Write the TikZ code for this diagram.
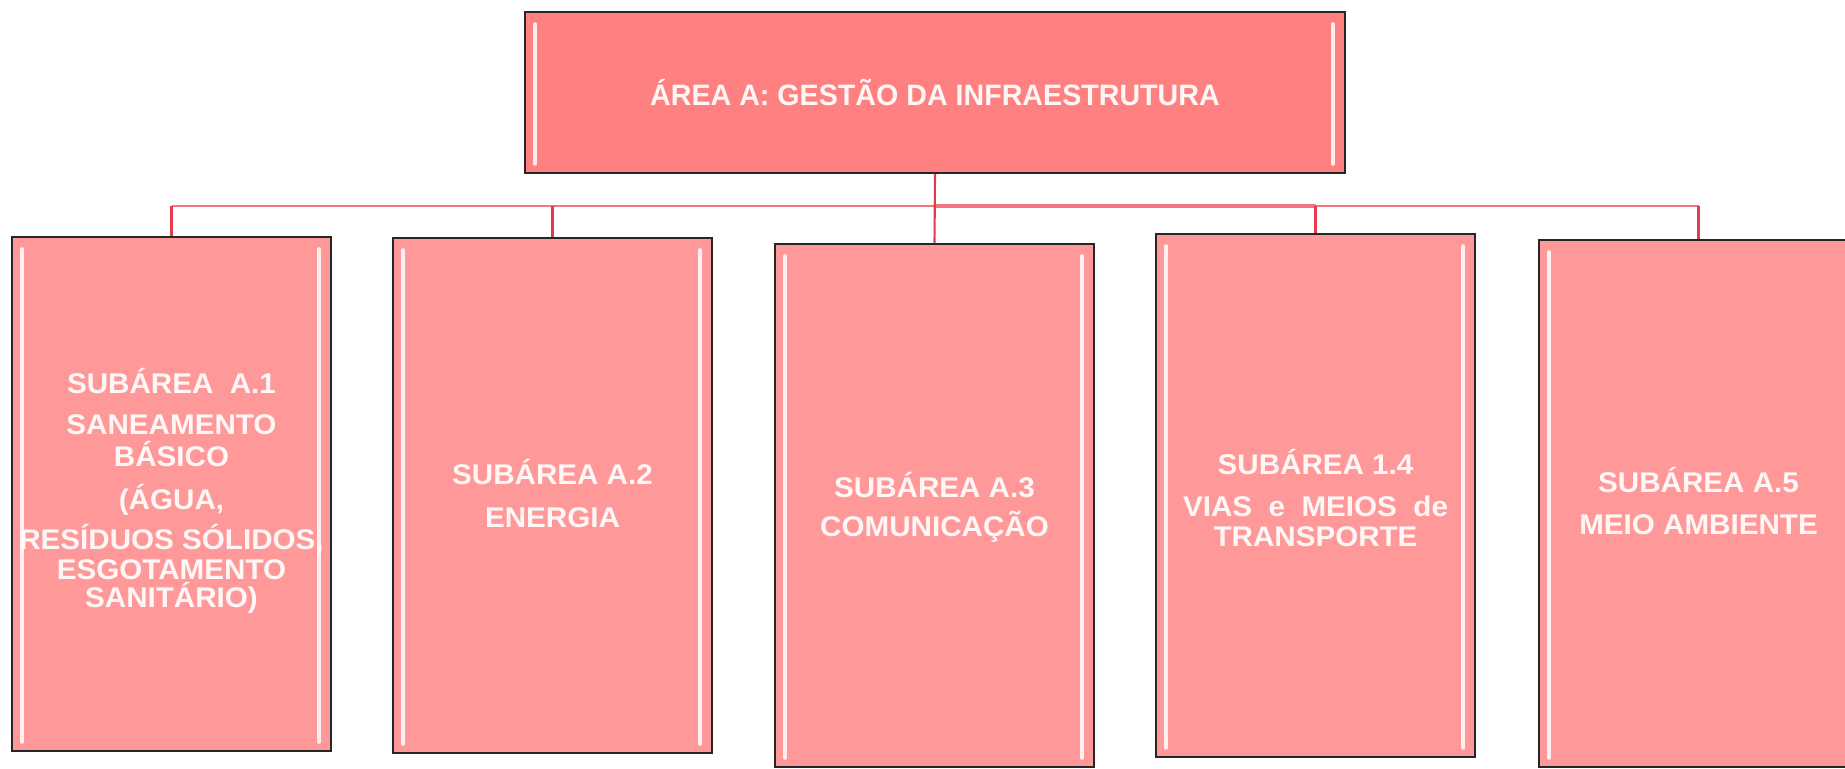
\documentclass[tikz,border=0pt]{standalone}
\usepackage{fontspec}
\setmainfont{Liberation Sans}[FakeStretch=1.04]
\newfontfamily\areafont{Liberation Sans}[FakeStretch=0.97]
\usetikzlibrary{math}
\usetikzlibrary{positioning}
\usepackage{xcolor}

\definecolor{areafill}{RGB}{255,128,128}
\definecolor{subfill}{RGB}{255,153,153}
\definecolor{droplink}{RGB}{228,58,74}
\definecolor{buslink}{RGB}{242,118,128}
\definecolor{boxtext}{RGB}{255,246,246}

\newcommand{\subfont}{\bfseries\fontsize{8.1}{8.4}\selectfont\setlength{\lineskiplimit}{-20pt}\setlength{\lineskip}{0pt}}

\begin{document}
\begin{tikzpicture}

\tikzmath{
	\W = 3.19cm;
	\H = 5.15cm;
	\B = -2.06;
}

\tikzset{area box/.style={
    draw=black!85, line width=0.5pt,
    fill=areafill,
    minimum width=8.2cm, minimum height=1.61cm,
    text=boxtext, align=center, inner sep=0pt,
    font=\areafont\bfseries\fontsize{8.4}{9}\selectfont
  },
  sub box/.style={
    draw=black!85, line width=0.5pt,
    fill=subfill,
    minimum width=\W, minimum height=#1,
    inner sep=0pt
  },
  sub box/.default=\H,
  sub text/.style={
    text=boxtext, align=center, inner sep=0pt,
    font=\subfont
  },
  glint/.style={white, line width=1.1pt, line cap=round, opacity=0.85},
  drop/.style={droplink, line width=0.6pt},
  bus/.style={buslink, line width=0.6pt}
}

\useasboundingbox (0,0) rectangle (18.45,-7.69);

% top of the tree
\node[area box] (area) at (9.35,-0.925) {ÁREA A: GESTÃO DA INFRAESTRUTURA};

% the five subareas
\node[sub box=5.14cm] (sub1) at (1.715,-4.94) {};
\node[sub box=5.15cm] (sub2) at (5.525,-4.955) {};
\node[sub box=5.23cm] (sub3) at (9.345,-5.055) {};
\node[sub box=5.23cm] (sub4) at (13.155,-4.955) {};
\node[sub box=5.27cm, minimum width=3.4cm] (sub5) at (17.09,-5.035) {};

\node[sub text] (txt1) at (1.715,-4.91)
  {SUBÁREA~~A.1\\[3.3pt]SANEAMENTO\\[0.7pt]BÁSICO\\[3.8pt](ÁGUA,\\[3pt]RESÍDUOS SÓLIDOS,\\[0.1pt]ESGOTAMENTO\\[-0.4pt]SANITÁRIO)};
\node[sub text] (txt2) at (5.525,-4.935) {SUBÁREA A.2\\[3.8pt]ENERGIA};
\node[sub text] (txt3) at (9.345,-5.07) {SUBÁREA A.3\\[2.7pt]COMUNICAÇÃO};
\node[sub text] (txt4) at (13.155,-4.98) {SUBÁREA 1.4\\[3.6pt]VIAS~~e~~MEIOS~~de\\[0.1pt]TRANSPORTE};
\node[sub text] (txt5) at (16.985,-5.01) {SUBÁREA A.5\\[3.5pt]MEIO AMBIENTE};

% shine on the inner edges
\foreach \n in {area,sub1,sub2,sub3,sub4,sub5}{
  \draw[glint] ([xshift=0.11cm,yshift=-0.13cm]\n.north west) -- ([xshift=0.11cm,yshift=0.1cm]\n.south west);
  \draw[glint] ([xshift=-0.13cm,yshift=-0.13cm]\n.north east) -- ([xshift=-0.13cm,yshift=0.1cm]\n.south east);
}

% connectors
\coordinate (bl) at (sub1.north |- 0,\B);
\coordinate (br) at (txt5.north |- 0,\B);
\draw[bus] (bl) -- (br);
\draw[bus, line width=1.2pt] (area.south |- 0,\B) -- (sub4.north |- 0,\B);
\draw[drop] (area.south) -- (sub3.north);
\foreach \n in {sub1,sub2,sub4}{
  \draw[drop] (\n.north |- 0,\B) -- (\n.north);
}
\draw[drop] (br) -- (br |- sub5.north);

\end{tikzpicture}
\end{document}
